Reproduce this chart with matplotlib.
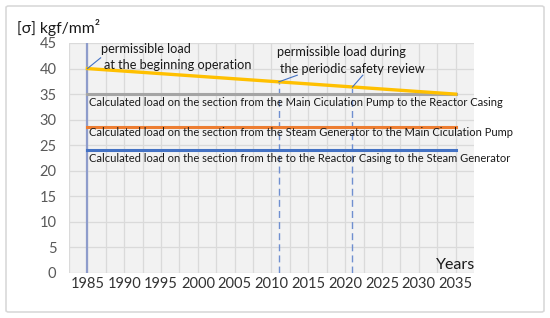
import matplotlib.pyplot as plt
from matplotlib.patches import FancyBboxPatch

# Data
years_span = [1985, 2035]
permissible = [40, 35]          # permissible load, declining
load_mcp_rc = [35, 35]          # Main Ciculation Pump -> Reactor Casing
load_sg_mcp = [28.5, 28.5]      # Steam Generator -> Main Ciculation Pump
load_rc_sg = [24, 24]           # Reactor Casing -> Steam Generator
review_years = [2011, 2021]
review_tops = [37.4, 36.4]
xticks = [1985, 1990, 1995, 2000, 2005, 2010, 2015, 2020, 2025, 2030, 2035]
yticks = [0, 5, 10, 15, 20, 25, 30, 35, 40, 45]

FONT = "Lato"
TXT = "#1a1a1a"

fig = plt.figure(figsize=(5.5, 3.18), dpi=100)
fig.patches.append(FancyBboxPatch((6 / 550, 6 / 318), 538 / 550, 306 / 318,
                                  boxstyle="round,pad=0,rounding_size=0.005",
                                  transform=fig.transFigure, fc="white",
                                  ec="#d9d9d9", lw=1.2, zorder=-10))
ax = fig.add_axes([69 / 550, 1 - 273 / 318, 405 / 550, 230 / 318])
ax.set_facecolor("#f2f2f2")

ax.set_xlim(1982.5, 2037.5)
ax.set_ylim(0, 45)
ax.set_xticks(xticks)
ax.set_xticks([x + 2.5 for x in xticks[:-1]] + [1982.5], minor=True)
ax.set_yticks(yticks)
ax.grid(True, which="both", axis="x", color="#dadada", lw=0.9)
ax.grid(True, axis="y", color="#dadada", lw=0.9)
ax.set_axisbelow(True)
for s in ax.spines.values():
    s.set_visible(False)
ax.tick_params(which="both", length=0)
ax.tick_params(axis="y", pad=9, labelsize=10.5, labelcolor="#595959")
ax.tick_params(axis="x", pad=3, labelsize=10.5, labelcolor="#333333")
for lab in ax.get_xticklabels() + ax.get_yticklabels():
    lab.set_family(FONT)

# start-of-operation line and review dashes
ax.plot([1985, 1985], [0, 45], color="#8e9ccb", lw=1.6, zorder=3)
for yr, top in zip(review_years, review_tops):
    ax.plot([yr, yr], [0, top], color="#6f8fd0", lw=1.0, ls=(0, (5, 3)), zorder=3)

ax.plot(years_span, load_mcp_rc, color="#a5a5a5", lw=2.2, zorder=4)
ax.plot(years_span, load_sg_mcp, color="#ed7d31", lw=2.2, zorder=4)
ax.plot(years_span, load_rc_sg, color="#4472c4", lw=2.2, zorder=4)
ax.plot(years_span, permissible, color="#ffc000", lw=2.4, zorder=5)

# leader lines
ln = dict(color="#4472c4", lw=0.8, zorder=6)
ax.plot([1985, 1986.8], [40, 42.1], **ln)
ax.plot([2011, 2013.5], [37.4, 38.7], **ln)
ax.plot([2021, 2022.4], [36.4, 38.7], **ln)

ann = dict(fontsize=9.2, family=FONT, color=TXT, va="center", ha="left", zorder=7)
ax.text(1986.8, 43.8, "permissible load", **ann)
ax.text(1987.2, 40.7, "at the beginning operation", **ann)
ax.text(2010.8, 43.2, "permissible load during", **ann)
ax.text(2011.2, 39.9, "the periodic safety review", **ann)

lbl = dict(fontsize=8.0, family=FONT, color=TXT, va="center", ha="left",
           clip_on=False, zorder=7)
ax.text(1985.15, 33.3, "Calculated load on the section from the Main Ciculation Pump to the Reactor Casing", **lbl)
ax.text(1985.15, 27.4, "Calculated load on the section from the Steam Generator to the Main Ciculation Pump", **lbl)
ax.text(1985.15, 22.5, "Calculated load on the section from the to the Reactor Casing to the Steam Generator", **lbl)

ax.text(2037.7, 1.6, "Years", fontsize=11.5, family=FONT, color=TXT,
        ha="right", va="center", clip_on=False)
fig.text(17 / 550, 1 - 28 / 318, "[σ] kgf/mm²", fontsize=11.3, family=FONT,
         color=TXT, ha="left", va="center")

fig.savefig("out.png", dpi=100)
